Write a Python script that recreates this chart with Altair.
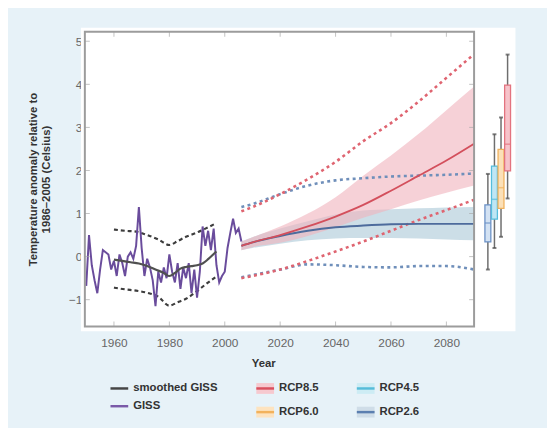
import altair as alt
import pandas as pd

# ---------------- data ----------------
giss_years = list(range(1950, 2007))
giss_values = [-0.68, 0.50, -0.20, -0.55, -0.85, -0.30, 0.15, 0.10, 0.05, -0.30,
               -0.10, -0.45, 0.05, -0.15, -0.45, 0.00, 0.10, -0.05, 0.25, 1.15,
               0.20, -0.45, -0.05, -0.25, -0.55, -1.15, -0.35, -0.60, -0.25, -0.50,
               0.05, -0.35, -0.60, -0.15, -0.75, -0.25, -0.50, -0.15, -0.85, -0.30,
               -0.95, -0.35, 0.70, 0.25, 0.60, 0.15, 0.65, -0.20, -0.60, -0.45,
               -0.35, 0.20, 0.55, 0.88, 0.55, 0.65, 0.35]

smooth_years = [1960, 1963, 1966, 1969, 1972, 1975, 1978, 1980, 1982, 1984, 1986, 1988, 1990, 1992, 1994, 1996, 1997]
smooth_values = [-0.07, -0.10, -0.13, -0.16, -0.22, -0.30, -0.38, -0.45, -0.38, -0.28, -0.24, -0.22, -0.20, -0.16, -0.06, 0.06, 0.12]

bound_years = [1960, 1964, 1968, 1972, 1976, 1980, 1983, 1986, 1990, 1993, 1997]
bound_upper = [0.63, 0.60, 0.58, 0.50, 0.40, 0.27, 0.36, 0.46, 0.56, 0.65, 0.78]
bound_lower = [-0.72, -0.76, -0.79, -0.84, -0.93, -1.14, -1.06, -0.98, -0.80, -0.65, -0.46]

proj_years = [2006, 2010, 2020, 2030, 2040, 2050, 2060, 2070, 2080, 2090]
rcp85_mean = [0.25, 0.33, 0.50, 0.70, 0.93, 1.20, 1.53, 1.88, 2.23, 2.62]
rcp85_low = [0.15, 0.22, 0.32, 0.48, 0.68, 0.90, 1.10, 1.30, 1.48, 1.65]
rcp85_high = [0.35, 0.45, 0.70, 1.00, 1.38, 1.88, 2.35, 2.85, 3.40, 3.95]
rcp85_min = [-0.50, -0.45, -0.30, -0.10, 0.12, 0.35, 0.60, 0.85, 1.08, 1.32]
rcp85_max = [1.05, 1.15, 1.45, 1.80, 2.20, 2.68, 3.10, 3.60, 4.15, 4.70]
rcp26_mean = [0.25, 0.33, 0.48, 0.60, 0.68, 0.72, 0.75, 0.76, 0.76, 0.76]
rcp26_low = [0.15, 0.20, 0.30, 0.38, 0.42, 0.43, 0.43, 0.42, 0.40, 0.38]
rcp26_high = [0.35, 0.45, 0.65, 0.82, 0.98, 1.07, 1.10, 1.12, 1.14, 1.15]
rcp26_min = [-0.48, -0.43, -0.30, -0.18, -0.20, -0.24, -0.25, -0.22, -0.22, -0.30]
rcp26_max = [1.15, 1.22, 1.45, 1.65, 1.77, 1.82, 1.86, 1.88, 1.90, 1.93]

scenarios = ['RCP2.6', 'RCP4.5', 'RCP6.0', 'RCP8.5']
box_low = [-0.30, 0.20, 0.46, 1.35]
box_q1 = [0.34, 0.87, 1.12, 1.99]
box_med = [0.78, 1.33, 1.60, 2.61]
box_q3 = [1.20, 2.10, 2.49, 3.98]
box_high = [1.92, 2.84, 3.23, 4.69]

x_ticks = [1960, 1980, 2000, 2020, 2040, 2060, 2080]
y_ticks = [-1, 0, 1, 2, 3, 4, 5]

legend_names = ['smoothed GISS', 'GISS', 'RCP8.5', 'RCP6.0', 'RCP4.5', 'RCP2.6']

# ---------------- styles ----------------
FONT = 'Liberation Sans'
box_stroke = ['#6a90c6', '#55bddc', '#f0b25e', '#e3737f']
box_fill = ['#d3e2f3', '#bfe6f4', '#fbe0b8', '#f6c3ca']
legend_line_colors = ['#454545', '#7a5aa8', '#d9505e', '#f2b25c', '#56bcd9', '#5b7fb0']
legend_band_colors = ['', '', '#f6c9cf', '#fde3bf', '#cdecf4', '#cfdde8']

W, H = 395, 299

xscale = alt.Scale(domain=[1949.5, 2090], nice=False, zero=False)
yscale = alt.Scale(domain=[-1.62, 5.22], nice=False, zero=False)
xaxis = alt.Axis(values=x_ticks, format='d', title='Year', grid=False, domain=False, ticks=False,
                 tickSize=0, labelPadding=11, labelFont=FONT, labelFontSize=12, labelColor='#666',
                 titleFont=FONT, titleFontSize=11.5, titleFontWeight='bold', titleColor='#333',
                 titleX=181, titleY=38, titleBaseline='middle')
yaxis = alt.Axis(values=y_ticks, format='d', title=['Temperature anomaly relative to', '1986\u20132005 (Celsius)'],
                 grid=False, domain=False, ticks=False, tickSize=0, labelPadding=3, labelFont=FONT,
                 labelFontSize=12, labelColor='#666', titleFont=FONT, titleFontSize=11.5,
                 titleFontWeight='bold', titleColor='#333', titleX=-47, titleY=H / 2, titleLineHeight=13)


def X(f):
    return alt.X(f, type='quantitative', scale=xscale, axis=xaxis)


def Y(f):
    return alt.Y(f, type='quantitative', scale=yscale, axis=yaxis)


giss_df = pd.DataFrame({'year': giss_years, 'value': giss_values})
smooth_df = pd.DataFrame({'year': smooth_years, 'value': smooth_values})
bound_df = pd.DataFrame({'year': bound_years * 2, 'value': bound_upper + bound_lower,
                         'which': ['upper'] * len(bound_years) + ['lower'] * len(bound_years)})
proj_df = pd.DataFrame({'year': proj_years, 'r85m': rcp85_mean, 'r85l': rcp85_low, 'r85h': rcp85_high,
                        'r26m': rcp26_mean, 'r26l': rcp26_low, 'r26h': rcp26_high})
n = len(proj_years)
dot85 = pd.DataFrame({'year': proj_years * 2, 'value': rcp85_min + rcp85_max, 'which': ['min'] * n + ['max'] * n})
dot26 = pd.DataFrame({'year': proj_years * 2, 'value': rcp26_min + rcp26_max, 'which': ['min'] * n + ['max'] * n})
box_df = pd.DataFrame({'scenario': scenarios, 'low': box_low, 'q1': box_q1, 'med': box_med,
                       'q3': box_q3, 'high': box_high})
xt_df = pd.DataFrame({'year': x_ticks})
yt_df = pd.DataFrame({'v': y_ticks})

one = pd.DataFrame({'a': [0]})

# ---------------- main plot ----------------
band26 = alt.Chart(proj_df).mark_area(color='#c6dae4', opacity=0.9, interpolate='monotone').encode(
    x=X('year'), y=Y('r26l'), y2='r26h')
band85 = alt.Chart(proj_df).mark_area(color='#f0b3bd', opacity=0.6, interpolate='monotone').encode(
    x=X('year'), y=Y('r85l'), y2='r85h')
dotted26 = alt.Chart(dot26).mark_line(color='#6f8fba', strokeWidth=2.6, strokeDash=[3, 3.5],
                                      interpolate='monotone').encode(x=X('year'), y=Y('value'), detail='which:N')
dotted85 = alt.Chart(dot85).mark_line(color='#df6470', strokeWidth=2.6, strokeDash=[3, 3.5],
                                      interpolate='monotone').encode(x=X('year'), y=Y('value'), detail='which:N')
line26 = alt.Chart(proj_df).mark_line(color='#4d6b9c', strokeWidth=2, interpolate='monotone').encode(
    x=X('year'), y=Y('r26m'))
line85 = alt.Chart(proj_df).mark_line(color='#d34f5c', strokeWidth=1.8, interpolate='monotone').encode(
    x=X('year'), y=Y('r85m'))
bounds = alt.Chart(bound_df).mark_line(color='#3d3d3d', strokeWidth=2.2, strokeDash=[4, 3],
                                       interpolate='monotone').encode(x=X('year'), y=Y('value'), detail='which:N')
giss = alt.Chart(giss_df).mark_line(color='#6a4c9c', strokeWidth=2).encode(x=X('year'), y=Y('value'))
smooth = alt.Chart(smooth_df).mark_line(color='#505050', strokeWidth=2.2, interpolate='monotone').encode(
    x=X('year'), y=Y('value'))

tick_style = dict(color='#a8a8a8', thickness=1, size=5)
xt_top = alt.Chart(xt_df).mark_tick(orient='vertical', **tick_style).encode(x=X('year'), y=alt.value(2.5))
xt_bot = alt.Chart(xt_df).mark_tick(orient='vertical', **tick_style).encode(x=X('year'), y=alt.value(H - 2.5))
yt_left = alt.Chart(yt_df).mark_tick(orient='horizontal', **tick_style).encode(y=Y('v'), x=alt.value(2.5))
yt_right = alt.Chart(yt_df).mark_tick(orient='horizontal', **tick_style).encode(y=Y('v'), x=alt.value(W - 2.5))

main = alt.layer(band26, band85, dotted26, dotted85, line26, line85, bounds, giss, smooth,
                 xt_top, xt_bot, yt_left, yt_right)

# ---------------- box plots ----------------
xbox = alt.X('scenario:N', scale=alt.Scale(type='point', domain=scenarios, range=[409, 429], padding=0),
             axis=None)
stroke_enc = alt.Stroke('scenario:N', scale=alt.Scale(domain=scenarios, range=box_stroke), legend=None)
fill_enc = alt.Fill('scenario:N', scale=alt.Scale(domain=scenarios, range=box_fill), legend=None)

whisk = alt.Chart(box_df).mark_rule(color='#6e6e6e', strokeWidth=1.5).encode(x=xbox, y=Y('low'), y2='high')
cap_lo = alt.Chart(box_df).mark_tick(orient='horizontal', size=4, thickness=2, color='#4a4a4a').encode(
    x=xbox, y=Y('low'))
cap_hi = alt.Chart(box_df).mark_tick(orient='horizontal', size=4, thickness=2, color='#4a4a4a').encode(
    x=xbox, y=Y('high'))
boxes = alt.Chart(box_df).mark_bar(size=6, strokeWidth=1.3).encode(
    x=xbox, y=Y('q1'), y2='q3', fill=fill_enc, stroke=stroke_enc)
medians = alt.Chart(box_df).mark_tick(orient='horizontal', size=6, thickness=1.5).encode(
    x=xbox, y=Y('med'), color=alt.Color('scenario:N', scale=alt.Scale(domain=scenarios, range=box_stroke),
                                        legend=None))
boxgroup = alt.layer(whisk, cap_lo, cap_hi, boxes, medians)

# ---------------- decoration ----------------
panel = alt.Chart(one).mark_rect(color='white').encode(
    x=alt.value(-4), x2=alt.value(W + 42), y=alt.value(-4), y2=alt.value(H + 5))
frame = alt.Chart(one).mark_rect(fill='transparent', stroke='#9c9c9c', strokeWidth=2).encode(
    x=alt.value(0), x2=alt.value(W), y=alt.value(0), y2=alt.value(H))

# ---------------- legend ----------------
col_x0 = [26, 174, 276]
row_step = [18, 24, 24]
rows = []
for i, name in enumerate(legend_names):
    c, r = i // 2, i % 2
    y = H + 63 + r * row_step[c]
    rows.append({'name': name, 'line': legend_line_colors[i], 'band': legend_band_colors[i],
                 'x0': col_x0[c], 'x1': col_x0[c] + 18, 'tx': col_x0[c] + 23, 'y': y, 'yt': y - 5.5,
                 'yb': y + 5.5})
legend_df = pd.DataFrame(rows)

leg_band = alt.Chart(legend_df[legend_df['band'] != '']).mark_rect().encode(
    x=alt.X('x0:Q', scale=None), x2='x1:Q', y=alt.Y('yt:Q', scale=None), y2='yb:Q',
    color=alt.Color('band:N', scale=None))
leg_line = alt.Chart(legend_df).mark_rule(strokeWidth=2.5).encode(
    x=alt.X('x0:Q', scale=None), x2='x1:Q', y=alt.Y('y:Q', scale=None),
    color=alt.Color('line:N', scale=None))
leg_text = alt.Chart(legend_df).mark_text(align='left', baseline='middle', font=FONT, fontSize=11.5,
                                          fontWeight='bold', color='#333').encode(
    x=alt.X('tx:Q', scale=None), y=alt.Y('y:Q', scale=None), text='name:N')

chart = alt.layer(panel, main, boxgroup, frame, leg_band, leg_line, leg_text).resolve_scale(
    x='independent'
).properties(
    width=W, height=H,
    padding={'left': 78, 'top': 21, 'right': 74, 'bottom': 100},
    autosize=alt.AutoSizeParams(type='none'),
).configure(
    background='#e7f2f8', font=FONT
).configure_view(stroke='transparent')

chart.save('out.html', embed_options={'renderer': 'svg', 'actions': False})
